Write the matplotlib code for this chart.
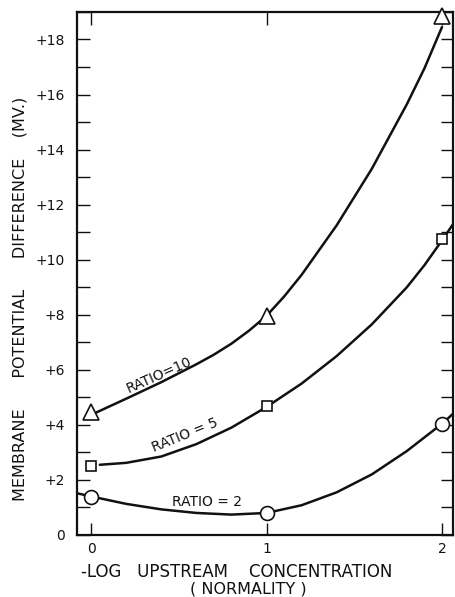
"""Membrane potential difference vs. -log upstream concentration."""

import matplotlib
matplotlib.use("Agg")
import matplotlib.pyplot as plt
from matplotlib.ticker import MultipleLocator, FixedLocator

# --- measured points (markers) ---
x_pts = [0, 1, 2]
ratio10_pts = [4.45, 7.96, 18.87]
ratio5_pts = [2.52, 4.69, 10.76]
ratio2_pts = [1.39, 0.81, 4.04]

# --- hand-drawn smooth curves ---
ratio10_cx = [0.03, 0.2, 0.4, 0.6, 0.7, 0.8, 0.9, 1.0, 1.1, 1.2, 1.4, 1.6,
              1.8, 1.9, 2.0]
ratio10_cy = [4.45, 4.95, 5.55, 6.2, 6.55, 6.95, 7.42, 7.96, 8.66, 9.45,
              11.25, 13.3, 15.65, 16.95, 18.45]

ratio5_cx = [0.05, 0.2, 0.4, 0.6, 0.8, 1.0, 1.2, 1.4, 1.6, 1.8, 1.9,
             2.0, 2.08]
ratio5_cy = [2.55, 2.62, 2.85, 3.3, 3.9, 4.65, 5.5, 6.5, 7.65, 9.0, 9.8,
             10.7, 11.45]

ratio2_cx = [-0.09, 0.0, 0.2, 0.4, 0.6, 0.8, 1.0, 1.2, 1.4, 1.6, 1.8,
             2.0, 2.08]
ratio2_cy = [1.53, 1.4, 1.13, 0.93, 0.8, 0.74, 0.8, 1.08, 1.55, 2.2, 3.05,
             4.04, 4.5]

y_ticks = [0, 2, 4, 6, 8, 10, 12, 14, 16, 18]
y_ticklabels = ["0", "+2", "+4", "+6", "+8", "+10", "+12", "+14", "+16", "+18"]
x_ticks = [0, 1, 2]
x_ticklabels = ["0", "1", "2"]

INK = "#111111"


def main():
    plt.rcParams["font.family"] = ["DejaVu Sans"]
    fig = plt.figure(figsize=(4.56, 5.97), dpi=100)
    ax = fig.add_axes([0.1689, 0.1039, 0.8246, 0.8761])
    ax.set_xlim(-0.08, 2.063)
    ax.set_ylim(0, 19.0)

    # curves
    for cx, cy in [(ratio10_cx, ratio10_cy), (ratio5_cx, ratio5_cy),
                   (ratio2_cx, ratio2_cy)]:
        ax.plot(cx, cy, color=INK, linewidth=1.8, zorder=2,
                solid_joinstyle="round", solid_capstyle="round")

    # markers
    marker_kw = dict(linestyle="none", markerfacecolor="white",
                     markeredgecolor=INK, markeredgewidth=1.2,
                     zorder=3, clip_on=False)
    ax.plot(x_pts, ratio10_pts, marker="^", markersize=11, **marker_kw)
    ax.plot(x_pts, ratio5_pts, marker="s", markersize=7, **marker_kw)
    ax.plot(x_pts, ratio2_pts, marker="o", markersize=10, **marker_kw)

    # curve labels
    ax.text(0.39, 5.8, "RATIO=10", rotation=24, ha="center", va="center",
            fontsize=10, color=INK)
    ax.text(0.535, 3.62, "RATIO = 5", rotation=22, ha="center", va="center",
            fontsize=10, color=INK)
    ax.text(0.66, 1.2, "RATIO = 2", ha="center", va="center",
            fontsize=10, color=INK)

    # ticks
    ax.yaxis.set_major_locator(FixedLocator(y_ticks))
    ax.set_yticklabels(y_ticklabels)
    ax.yaxis.set_minor_locator(MultipleLocator(1))
    ax.xaxis.set_major_locator(FixedLocator(x_ticks))
    ax.set_xticklabels(x_ticklabels)
    ax.tick_params(axis="both", which="both", direction="in", length=9,
                   width=1.0, color=INK, labelcolor=INK, labelsize=10,
                   top=True, right=True)
    ax.tick_params(axis="y", which="both", pad=9)
    ax.tick_params(axis="x", which="both", pad=5)
    for s in ax.spines.values():
        s.set_linewidth(1.6)
        s.set_color(INK)

    # axis labels
    fig.text(0.044, 0.50,
             "MEMBRANE      POTENTIAL      DIFFERENCE    (MV.)",
             rotation=90, ha="center", va="center", fontsize=11.5, color=INK)
    fig.text(0.52, 0.042, "-LOG   UPSTREAM    CONCENTRATION",
             ha="center", va="center", fontsize=12, color=INK)
    fig.text(0.544, 0.014, "( NORMALITY )",
             ha="center", va="center", fontsize=11.5, color=INK)

    fig.savefig("out.png", dpi=100, facecolor="white")
    plt.close(fig)


if __name__ == "__main__":
    main()
